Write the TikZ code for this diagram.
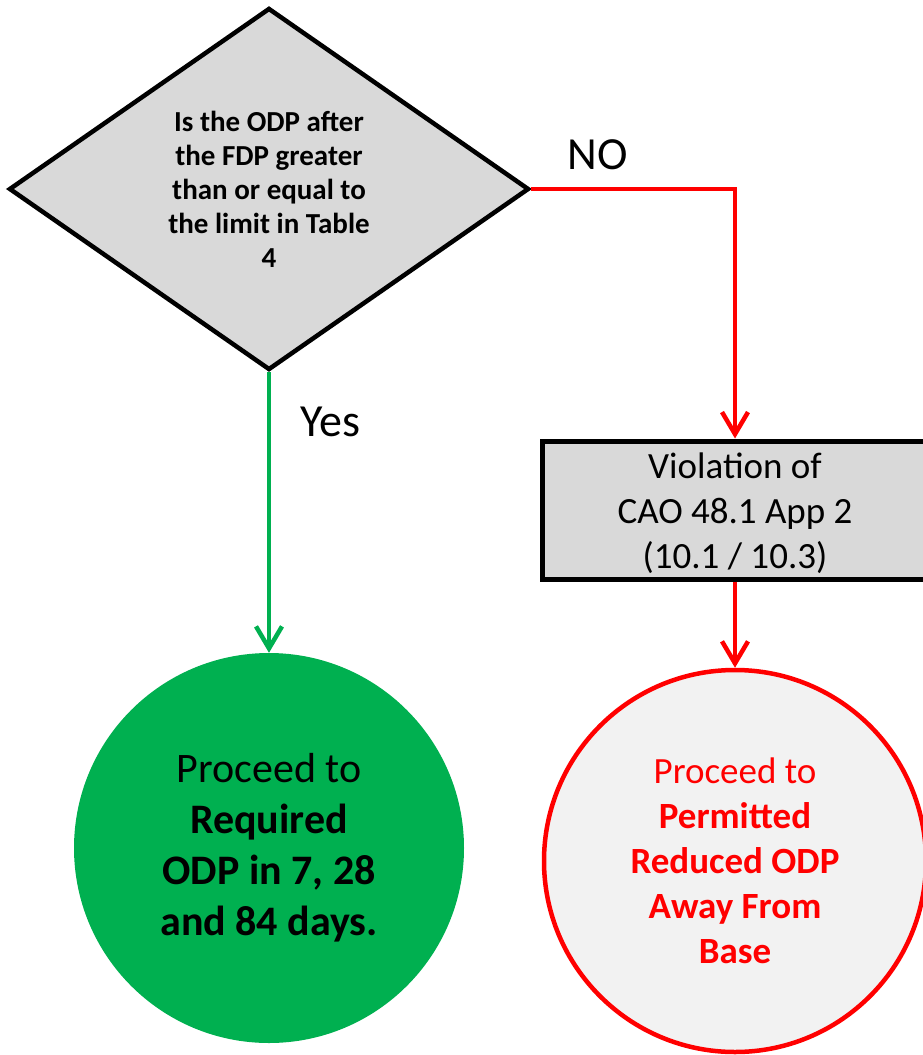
\documentclass[tikz,border=0pt]{standalone}
\usepackage{fontspec}
\setmainfont{Carlito}
\usetikzlibrary{shapes.geometric,arrows.meta,positioning}
\definecolor{boxgray}{HTML}{D9D9D9}
\definecolor{okgreen}{HTML}{00B050}
\definecolor{nored}{HTML}{FF0000}
\definecolor{palegray}{HTML}{F2F2F2}
\tikzset{
  decision/.style={draw=black,line width=4.5pt,fill=boxgray,shape=diamond,
    minimum width=520pt,minimum height=362pt,inner sep=0pt,align=center,
    font=\fontsize{29}{34}\selectfont\bfseries},
  actionbox/.style={draw=black,line width=5pt,fill=boxgray,rectangle,
    minimum width=386pt,minimum height=138pt,inner sep=0pt,align=center,
    font=\fontsize{37}{45}\selectfont},
  endgood/.style={circle,fill=okgreen,minimum size=390pt,inner sep=0pt,
    align=center,font=\fontsize{42}{51}\selectfont},
  endbad/.style={circle,draw=nored,line width=4.5pt,fill=palegray,
    minimum size=382pt,inner sep=0pt,align=center,text=nored,
    font=\fontsize{37}{45}\selectfont},
  flow/.style={line width=4.5pt,-{Straight Barb[length=22pt,width=26pt,line width=4.5pt]}},
  tag/.style={font=\fontsize{46}{50}\selectfont}
}
\begin{document}
\begin{tikzpicture}[x=1pt,y=-1pt]
\useasboundingbox (0,0) rectangle (922,1055);
\node[decision] (q) at (269,189) {Is the ODP after\\the FDP greater\\than or equal to\\the limit in Table\\4};
\node[actionbox] (v) at (735,510) {\smash{\raisebox{-11pt}{\begin{tabular}{@{}c@{}}Violation of\\CAO 48.1 App 2\\(10.1 / 10.3)\end{tabular}}}};
\node[endgood] (ok) at (269,848) {Proceed to\\\textbf{Required}\\\textbf{ODP in 7, 28}\\\textbf{and 84 days.}};
\node[endbad] (bad) at (735,861) {Proceed to\\\textbf{Permitted}\\\textbf{Reduced ODP}\\\textbf{Away From}\\\textbf{Base}};
\coordinate (turn) at (v.north |- q.east);
% connectors
\draw[flow,draw=nored] (q.east) -- (turn) -- (v.north);
\draw[flow,draw=okgreen] (q.south) -- (ok.north);
\draw[flow,draw=nored] (v.south) -- (bad.north);
\node[tag] (no) at (598,155) {NO};
\node[tag] (yes) at (330,422) {Yes};
\end{tikzpicture}
\end{document}
